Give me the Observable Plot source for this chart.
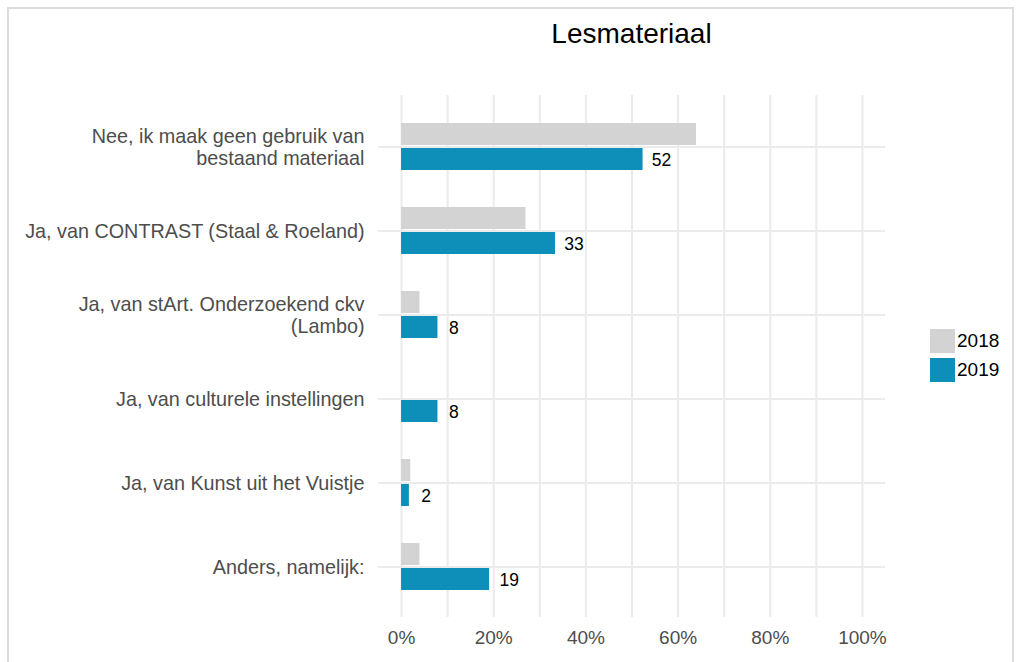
<!DOCTYPE html>
<html>
<head>
<meta charset="utf-8">
<script src="https://cdn.jsdelivr.net/npm/d3@7"></script>
<script src="https://cdn.jsdelivr.net/npm/@observablehq/plot@0.6"></script>
<style>
  html, body { margin: 0; padding: 0; background: #fff; }
  body { width: 1020px; height: 662px; overflow: hidden; position: relative; font-family: "Liberation Sans", Arial, sans-serif; }
  #frame { position: absolute; left: 7px; top: 7px; width: 1007px; height: 720px; border: 2px solid #dcdcdc; box-sizing: border-box; }
  #wrap { position: absolute; left: 0; top: 0; width: 1020px; height: 662px; }
  #title { height: 80px; box-sizing: border-box; padding-top: 20px; padding-left: 378px; width: 885px; text-align: center; font-size: 28px; line-height: 28px; color: #000; }
  #legend { position: absolute; left: 930px; top: 329px; font-size: 19px; color: #000; }
  .item { display: flex; align-items: center; height: 24.5px; margin-bottom: 4.5px; }
  .sw { width: 25px; height: 24px; margin-right: 2px; }
  svg { display: block; }
</style>
</head>
<body>
<div id="frame"></div>
<div id="wrap">
  <div id="title">Lesmateriaal</div>
  <div id="chart"></div>
</div>
<div id="legend"></div>
<script>
const categories = [
  "Nee, ik maak geen gebruik van\nbestaand materiaal",
  "Ja, van CONTRAST (Staal & Roeland)",
  "Ja, van stArt. Onderzoekend ckv\n(Lambo)",
  "Ja, van culturele instellingen",
  "Ja, van Kunst uit het Vuistje",
  "Anders, namelijk:"
];
const years = ["2018", "2019"];
const values2018 = [64, 27, 4, 0, 2, 4];
const values2019 = [52.4, 33.4, 7.9, 7.9, 1.7, 19.1];
const colors = ["#d3d3d3", "#0e8fb9"];
const xTicks = [0, 20, 40, 60, 80, 100];
const gridTicks = [0, 10, 20, 30, 40, 50, 60, 70, 80, 90, 100];

const d2018 = categories.map((c, i) => ({cat: c, year: "2018", v: values2018[i]}));
const d2019 = categories.map((c, i) => ({cat: c, year: "2019", v: values2019[i]}));

const chart = Plot.plot({
  width: 1020,
  height: 582,
  marginLeft: 378,
  marginRight: 135,
  marginTop: 15,
  marginBottom: 45,
  style: {fontFamily: "'Liberation Sans', Arial, sans-serif", background: "transparent"},
  x: {domain: [-5, 105]},
  y: {domain: categories, paddingInner: 0.442, paddingOuter: 0.321},
  marks: [
    Plot.gridX(gridTicks, {stroke: "#ebebeb", strokeWidth: 2, strokeOpacity: 1}),
    Plot.gridY(categories, {stroke: "#ebebeb", strokeWidth: 2, strokeOpacity: 1}),
    Plot.barX(d2018.filter(d => d.v > 0), {x: "v", y: "cat", fill: colors[0], insetBottom: 25}),
    Plot.barX(d2019, {x: "v", y: "cat", fill: colors[1], insetTop: 25}),
    Plot.text(d2019, {x: d => Math.round(d.v), y: "cat", text: d => String(Math.round(d.v)), dx: 10.5, dy: 13, textAnchor: "start", fill: "#000", fontSize: 17.5}),
    Plot.axisX(xTicks, {tickFormat: d => d + "%", tickSize: 0, tickPadding: 13, fontSize: 19, fill: "#4d4d4d", label: null}),
    Plot.axisY({tickSize: 0, tickPadding: 14, fontSize: 19.8, fill: "#4d4d4d", lineHeight: 1.08, label: null})
  ]
});
document.getElementById("chart").appendChild(chart);

const legend = document.getElementById("legend");
years.forEach((y, i) => {
  const item = document.createElement("div");
  item.className = "item";
  const sw = document.createElement("div");
  sw.className = "sw";
  sw.style.background = colors[i];
  const lab = document.createElement("span");
  lab.textContent = y;
  item.appendChild(sw);
  item.appendChild(lab);
  legend.appendChild(item);
});
</script>
</body>
</html>
